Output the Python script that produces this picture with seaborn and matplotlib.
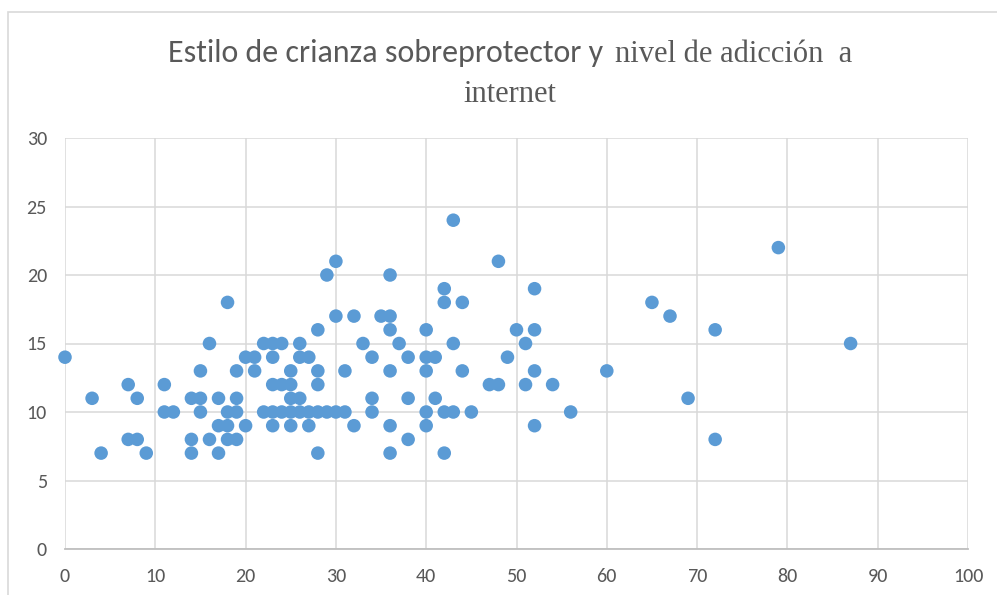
import matplotlib
matplotlib.use("Agg")
import matplotlib.pyplot as plt
import seaborn as sns
import pandas as pd
from matplotlib.patches import Rectangle

# Data
sobreprotector = [
    0, 3, 4, 7, 7, 8, 8, 9, 11, 11, 12, 14, 14, 14, 15, 15, 15, 16, 16,
    17, 17, 17, 18, 18, 18, 18, 19, 19, 19, 19, 20, 20, 21, 21, 22, 22,
    23, 23, 23, 23, 23, 24, 24, 24, 25, 25, 25, 25, 25, 26, 26, 26, 26,
    27, 27, 27, 28, 28, 28, 28, 28, 29, 29, 30, 30, 30, 31, 31, 32, 32,
    33, 34, 34, 34, 35, 36, 36, 36, 36, 36, 36, 37, 38, 38, 38,
    40, 40, 40, 40, 40, 41, 41, 42, 42, 42, 42, 43, 43, 43, 44, 44, 45,
    47, 48, 48, 49, 50, 51, 51, 52, 52, 52, 52, 54, 56, 60, 65, 67, 69,
    72, 72, 79, 87,
]
adiccion = [
    14, 11, 7, 12, 8, 11, 8, 7, 12, 10, 10, 11, 8, 7, 13, 11, 10, 15, 8,
    11, 9, 7, 18, 10, 9, 8, 13, 11, 10, 8, 14, 9, 14, 13, 15, 10,
    15, 14, 12, 10, 9, 15, 12, 10, 13, 12, 11, 10, 9, 15, 14, 11, 10,
    14, 10, 9, 16, 13, 12, 10, 7, 20, 10, 21, 17, 10, 13, 10, 17, 9,
    15, 14, 11, 10, 17, 20, 17, 16, 13, 9, 7, 15, 14, 11, 8,
    16, 14, 13, 10, 9, 14, 11, 19, 18, 10, 7, 24, 15, 10, 18, 13, 10,
    12, 21, 12, 14, 16, 15, 12, 19, 16, 13, 9, 12, 10, 13, 18, 17, 11,
    16, 8, 22, 15,
]
# title: first part in a sans face, the rest in a serif face (as in the original)
title_part_sans = "Estilo de crianza sobreprotector y"
title_part_serif = "nivel de adicción  a"
title_line2 = "internet"
x_ticks = [0, 10, 20, 30, 40, 50, 60, 70, 80, 90, 100]
y_ticks = [0, 5, 10, 15, 20, 25, 30]

df = pd.DataFrame({"x": sobreprotector, "y": adiccion})

sns.set_theme(style="white")
fam = ["Carlito", "DejaVu Sans"]
serif = ["Liberation Serif", "DejaVu Serif"]
plt.rcParams["font.family"] = fam

W, H = 997, 595
fig = plt.figure(figsize=(W / 100, H / 100), dpi=100)
ax = fig.add_axes([65 / W, 1 - 549 / H, (968 - 65) / W, (549 - 138) / H])

# chart-area border
fig.patches.append(Rectangle((8 / W, -0.1), 1.2, 1 - 12 / H + 0.1,
                             transform=fig.transFigure, fill=False,
                             edgecolor="#d9d9d9", linewidth=1.2, zorder=0))

sns.scatterplot(data=df, x="x", y="y", ax=ax, s=95, color="#5B9BD5",
                edgecolor="none", linewidth=0, zorder=3, clip_on=False)

ax.set_xlim(0, 100)
ax.set_ylim(0, 30)
ax.set_xticks(x_ticks)
ax.set_yticks(y_ticks)
ax.set_xlabel("")
ax.set_ylabel("")
ax.grid(True, color="#d9d9d9", linewidth=1.1)
ax.set_axisbelow(True)
for side in ["top", "right", "left"]:
    ax.spines[side].set_visible(False)
ax.spines["bottom"].set_color("#bfbfbf")
ax.spines["bottom"].set_linewidth(1.3)
ax.tick_params(axis="both", length=0, labelsize=14.5, labelcolor="#595959")
ax.tick_params(axis="x", pad=14)
ax.tick_params(axis="y", pad=13)

tc = "#595959"
t1 = fig.text(0, 1 - 62 / H, title_part_sans, ha="left", va="baseline",
              fontsize=23, color=tc, family=fam)
t2 = fig.text(0, 1 - 62 / H, title_part_serif, ha="left", va="baseline",
              fontsize=22, color=tc, family=serif)
fig.text(510 / W, 1 - 102 / H, title_line2, ha="center", va="baseline",
         fontsize=22, color=tc, family=serif)

fig.canvas.draw()
r = fig.canvas.get_renderer()
w1 = t1.get_window_extent(r).width
w2 = t2.get_window_extent(r).width
gap = 12
start = 510 - (w1 + gap + w2) / 2
t1.set_x(start / W)
t2.set_x((start + w1 + gap) / W)

fig.savefig("out.png", dpi=100)
